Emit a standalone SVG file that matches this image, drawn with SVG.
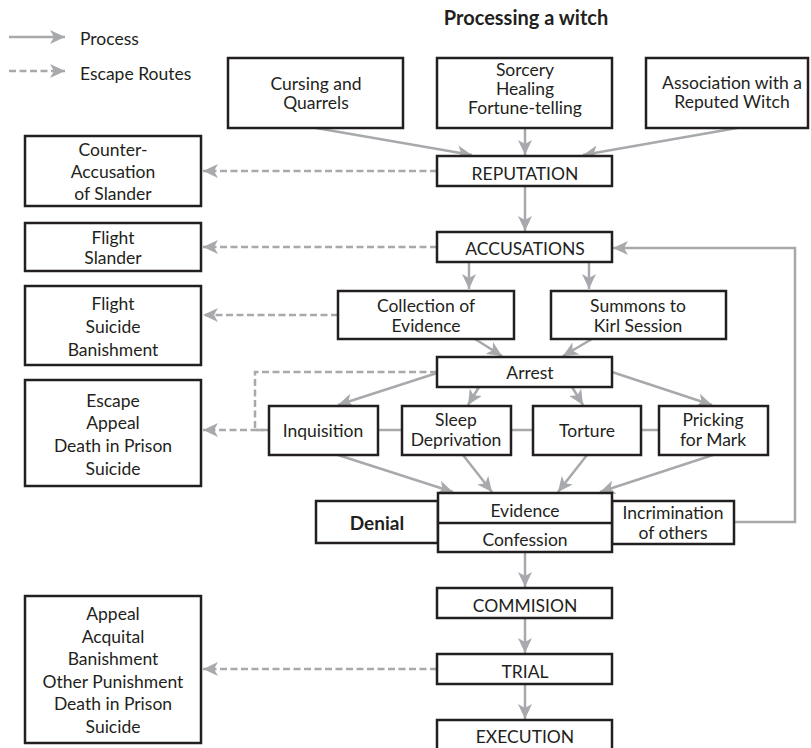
<svg xmlns="http://www.w3.org/2000/svg" width="811" height="748" viewBox="0 0 811 748">
<defs>
<marker id="ah" markerUnits="userSpaceOnUse" markerWidth="16" markerHeight="14" refX="15" refY="7" orient="auto">
<path d="M0,0 L15,7 L0,14 L4,7 Z" fill="#a7a9ac"/>
</marker>
<style>
.box{fill:#fff;stroke:#231f20;stroke-width:2.5}
.t{font-family:Lato,"Open Sans","Liberation Sans",sans-serif;font-size:17.5px;fill:#231f20;text-anchor:middle}
.tl{font-family:Lato,"Open Sans","Liberation Sans",sans-serif;font-size:17.5px;fill:#231f20}
.b{font-family:Lato,"Open Sans","Liberation Sans",sans-serif;font-weight:bold;fill:#231f20}
.c{fill:none;stroke:#a7a9ac;stroke-width:2.5}
.d{fill:none;stroke:#a7a9ac;stroke-width:2.5;stroke-dasharray:7,3.5}
</style>
</defs>
<rect width="811" height="748" fill="#fff"/>

<g id="legend">
<path class="c" d="M9,37 H65" marker-end="url(#ah)"/>
<path class="d" d="M9,71 H65" marker-end="url(#ah)"/>
<text class="tl" x="80" y="45">Process</text>
<text class="tl" x="80" y="80">Escape Routes</text>
</g>

<text class="b" x="526" y="25" font-size="20" text-anchor="middle">Processing a witch</text>

<g id="connectors">
<path class="c" d="M316,128 L472,155" marker-end="url(#ah)"/>
<path class="c" d="M525,128 L525,155" marker-end="url(#ah)"/>
<path class="c" d="M737,128 L583,155" marker-end="url(#ah)"/>
<path class="c" d="M525,186 L525,231" marker-end="url(#ah)"/>
<path class="c" d="M469,262 L469,289" marker-end="url(#ah)"/>
<path class="c" d="M589,262 L589,289" marker-end="url(#ah)"/>
<path class="c" d="M475,339 L502,356" marker-end="url(#ah)"/>
<path class="c" d="M592,339 L563,356" marker-end="url(#ah)"/>
<path class="c" d="M437,373 L338,405" marker-end="url(#ah)"/>
<path class="c" d="M479,387 L468,405" marker-end="url(#ah)"/>
<path class="c" d="M572,387 L583,405" marker-end="url(#ah)"/>
<path class="c" d="M612,372 L712,405" marker-end="url(#ah)"/>
<path class="c" d="M378,430 H402 M511,430 H533 M641,430 H659"/>
<path class="c" d="M338,455 L453,492" marker-end="url(#ah)"/>
<path class="c" d="M463,455 L492,492" marker-end="url(#ah)"/>
<path class="c" d="M587,455 L558,492" marker-end="url(#ah)"/>
<path class="c" d="M713,455 L600,492" marker-end="url(#ah)"/>
<path class="c" d="M734,522 H795 V248 H613" marker-end="url(#ah)"/>
<path class="c" d="M525,552 L525,587" marker-end="url(#ah)"/>
<path class="c" d="M525,618 L525,653" marker-end="url(#ah)"/>
<path class="c" d="M525,684 L525,719" marker-end="url(#ah)"/>
<path class="d" d="M437,171 H203" marker-end="url(#ah)"/>
<path class="d" d="M437,247 H203" marker-end="url(#ah)"/>
<path class="d" d="M338,315 H203" marker-end="url(#ah)"/>
<path class="d" d="M437,372 H255 V430 H268"/>
<path class="d" d="M268,430 H203" marker-end="url(#ah)"/>
<path class="d" d="M437,669 H203" marker-end="url(#ah)"/>
</g>

<g id="cursing">
<rect class="box" x="228" y="58" width="175" height="70"/>
<text class="t" x="316" y="90">Cursing and</text>
<text class="t" x="316" y="109">Quarrels</text>
</g>
<g id="sorcery">
<rect class="box" x="437" y="58" width="175" height="70"/>
<text class="t" x="525" y="76">Sorcery</text>
<text class="t" x="525" y="95">Healing</text>
<text class="t" x="525" y="114">Fortune-telling</text>
</g>
<g id="association">
<rect class="box" x="646" y="58" width="162" height="70"/>
<text class="t" x="732" y="89">Association with a</text>
<text class="t" x="732" y="108">Reputed Witch</text>
</g>
<g id="reputation">
<rect class="box" x="437" y="156" width="175" height="30"/>
<text class="t" x="525" y="180">REPUTATION</text>
</g>
<g id="counter">
<rect class="box" x="25" y="136" width="176" height="70"/>
<text class="t" x="113" y="156">Counter-</text>
<text class="t" x="113" y="178">Accusation</text>
<text class="t" x="113" y="200">of Slander</text>
</g>
<g id="accusations">
<rect class="box" x="437" y="232" width="175" height="30"/>
<text class="t" x="525" y="255">ACCUSATIONS</text>
</g>
<g id="flight1">
<rect class="box" x="25" y="223" width="176" height="48"/>
<text class="t" x="113" y="244">Flight</text>
<text class="t" x="113" y="264">Slander</text>
</g>
<g id="collection">
<rect class="box" x="338" y="291" width="176" height="48"/>
<text class="t" x="426" y="312">Collection of</text>
<text class="t" x="426" y="332">Evidence</text>
</g>
<g id="summons">
<rect class="box" x="551" y="291" width="175" height="48"/>
<text class="t" x="638" y="312">Summons to</text>
<text class="t" x="638" y="332">Kirl Session</text>
</g>
<g id="flight2">
<rect class="box" x="25" y="286" width="176" height="79"/>
<text class="t" x="113" y="310">Flight</text>
<text class="t" x="113" y="333">Suicide</text>
<text class="t" x="113" y="356">Banishment</text>
</g>
<g id="arrest">
<rect class="box" x="437" y="357" width="175" height="30"/>
<text class="t" x="530" y="379">Arrest</text>
</g>
<g id="escape">
<rect class="box" x="25" y="380" width="176" height="106"/>
<text class="t" x="113" y="407">Escape</text>
<text class="t" x="113" y="429">Appeal</text>
<text class="t" x="113" y="452">Death in Prison</text>
<text class="t" x="113" y="475">Suicide</text>
</g>
<g id="inquisition">
<rect class="box" x="269" y="406" width="109" height="49"/>
<text class="t" x="323" y="437">Inquisition</text>
</g>
<g id="sleep">
<rect class="box" x="402" y="406" width="109" height="49"/>
<text class="t" x="456" y="426">Sleep</text>
<text class="t" x="456" y="446">Deprivation</text>
</g>
<g id="torture">
<rect class="box" x="533" y="406" width="108" height="49"/>
<text class="t" x="587" y="437">Torture</text>
</g>
<g id="pricking">
<rect class="box" x="659" y="406" width="109" height="49"/>
<text class="t" x="713" y="426">Pricking</text>
<text class="t" x="713" y="446">for Mark</text>
</g>
<g id="denial">
<rect class="box" x="316" y="501" width="122" height="42"/>
<text class="b" x="377" y="530" font-size="19" text-anchor="middle">Denial</text>
</g>
<g id="incrimination">
<rect class="box" x="612" y="501" width="122" height="43"/>
<text class="t" x="673" y="519">Incrimination</text>
<text class="t" x="673" y="539">of others</text>
</g>
<g id="evidence">
<rect class="box" x="438" y="493" width="174" height="59"/>
<line x1="438" y1="523" x2="612" y2="523" stroke="#231f20" stroke-width="2.5"/>
<text class="t" x="525" y="517">Evidence</text>
<text class="t" x="525" y="546">Confession</text>
</g>
<g id="commision">
<rect class="box" x="437" y="588" width="175" height="30"/>
<text class="t" x="525" y="612">COMMISION</text>
</g>
<g id="trial">
<rect class="box" x="437" y="654" width="175" height="30"/>
<text class="t" x="525" y="678">TRIAL</text>
</g>
<g id="execution">
<rect class="box" x="437" y="720" width="175" height="32"/>
<text class="t" x="525" y="743">EXECUTION</text>
</g>
<g id="outcomes">
<rect class="box" x="25" y="596" width="176" height="147"/>
<text class="t" x="113" y="620">Appeal</text>
<text class="t" x="113" y="643">Acquital</text>
<text class="t" x="113" y="665">Banishment</text>
<text class="t" x="113" y="688">Other Punishment</text>
<text class="t" x="113" y="710">Death in Prison</text>
<text class="t" x="113" y="733">Suicide</text>
</g>
</svg>
